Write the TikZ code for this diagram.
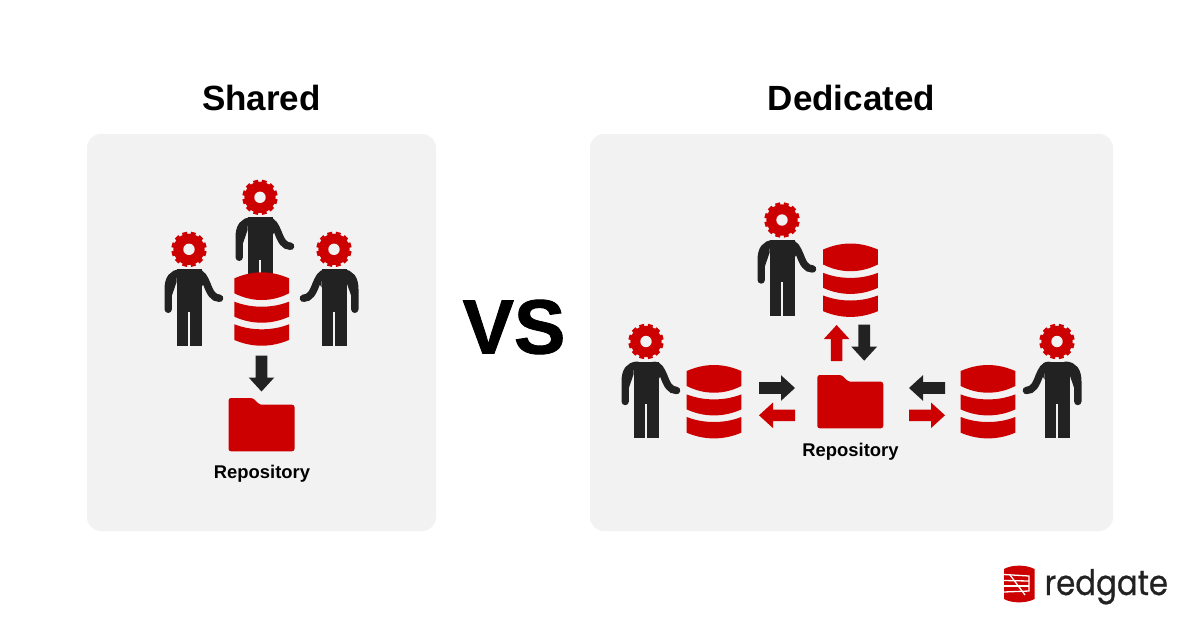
\documentclass[tikz,border=0pt]{standalone}
\usepackage{fontspec}
\setmainfont{Liberation Sans}
\newfontfamily\logofont[FakeBold=0.6,FakeStretch=0.88]{Poppins}
\newfontfamily\vsfont[FakeBold=1.2]{Liberation Sans Bold}
\definecolor{rg}{HTML}{CC0000}
\definecolor{ink}{HTML}{222222}
\definecolor{panel}{HTML}{F2F2F2}
\tikzset{
  panelbox/.style={fill=panel,draw=none,rounded corners=14pt},
  titletext/.style={inner sep=0pt,font=\bfseries\fontsize{35}{40}\selectfont,text=black},
  repotext/.style={inner sep=0pt,font=\bfseries\fontsize{18.4}{20}\selectfont,text=black},
}
\newcommand{\drawperson}[3]{% x, y, xscale
\begin{scope}[shift={(#1,#2)},xscale=#3]
  \foreach \a in {15,45,...,345}{\draw[rg,line width=5pt] (\a:13) -- (\a:17.6);}
  \fill[rg] (0,0) circle (15.6);
  \fill[panel] (0,0) circle (5.7);
  \draw[ink,line width=7.4pt,line cap=round] (-20.8,60) -- (-20.8,40) .. controls (-20.8,30) and (-17,23.7) .. (-8,23.7);
  \draw[ink,line width=7.4pt,line cap=round] (8,23.7) .. controls (13,23.7) and (15.5,29) .. (18,35) .. controls (21,43) and (24,49) .. (30.6,49);
  \fill[ink] (-17,46) -- (-12.5,33) -- (-12.5,22) -- (-18,25) -- cycle;
  \fill[ink] (12.5,22) -- (17,30) -- (12.5,38) -- cycle;
  \fill[ink] (-12.5,20) rectangle (-1,96.4);
  \fill[ink] (12.5,20) rectangle (1,96.4);
  \fill[ink] (-1.1,20) rectangle (1.1,62.4);
\end{scope}}
\newcommand{\drawdb}[2]{% centre x, top y
\begin{scope}[shift={(#1,#2)}]
  \fill[rg] (-27.3,6) .. controls (-18,2) and (-9,0) .. (0,0) .. controls (9,0) and (18,2) .. (27.3,6) -- (27.3,21) .. controls (18,25.7) and (9,27.7) .. (0,27.7) .. controls (-9,27.7) and (-18,25.7) .. (-27.3,21) -- cycle;
  \fill[rg] (-27.3,29.4) .. controls (-18,33) and (-9,34.4) .. (0,34.4) .. controls (9,34.4) and (18,33) .. (27.3,29.4) -- (27.3,44.4) .. controls (18,48.6) and (9,50.4) .. (0,50.4) .. controls (-9,50.4) and (-18,48.6) .. (-27.3,44.4) -- cycle;
  \fill[rg] (-27.3,52) .. controls (-18,55.6) and (-9,57) .. (0,57) .. controls (9,57) and (18,55.6) .. (27.3,52) -- (27.3,67.7) .. controls (18,71.6) and (9,73.4) .. (0,73.4) .. controls (-9,73.4) and (-18,71.6) .. (-27.3,67.7) -- cycle;
\end{scope}}
\newcommand{\drawfolder}[2]{% left x, top y
\begin{scope}[shift={(#1,#2)}]
  \fill[rg,rounded corners=2.5pt] (0,0) -- (24.4,0) -- (31,6.7) -- (66,6.7) -- (66,53.3) -- (0,53.3) -- cycle;
\end{scope}}
\newcommand{\drawarrow}[4]{% colour, tail x, tail y, rotation (clockwise on screen)
\begin{scope}[shift={(#2,#3)},rotate=#4]
  \fill[#1] (0,-5.8) -- (22,-5.8) -- (22,-12.8) -- (36,0) -- (22,12.8) -- (22,5.8) -- (0,5.8) -- cycle;
\end{scope}}
\begin{document}
\begin{tikzpicture}[x=1pt,y=-1pt]
\useasboundingbox (0,0) rectangle (1200,630);
\fill[white] (0,0) rectangle (1200,630);
\fill[panelbox] (87,134) rectangle (436,531);
\fill[panelbox] (590,134) rectangle (1113,531);
\node[titletext] (sharedtitle) at (261.5,98) {Shared};
\node[titletext] (dedicatedtitle) at (851.5,98) {Dedicated};
\node[inner sep=0pt,font=\vsfont\fontsize{77}{80}\selectfont,text=black] (vs) at (514,327) {VS};
% shared
\drawperson{260}{197.3}{1}
\drawperson{189}{249.3}{1}
\drawperson{334}{249.3}{-1}
\drawdb{261.7}{272.3}
\drawarrow{ink}{261.5}{355.5}{-90}
\drawfolder{228.5}{398}
\node[repotext] (repoa) at (262,473.5) {Repository};
% dedicated
\drawperson{782}{220}{1}
\drawdb{850.5}{243.5}
\drawperson{646}{341.5}{1}
\drawdb{714}{365}
\drawperson{1057}{341.5}{-1}
\drawdb{988}{365}
\drawarrow{rg}{836.6}{361}{90}
\drawarrow{ink}{864.2}{324.7}{-90}
\drawarrow{ink}{759}{388}{0}
\drawarrow{rg}{795}{415.3}{180}
\drawarrow{ink}{945}{388}{180}
\drawarrow{rg}{909}{415.3}{0}
\drawfolder{817.3}{375}
\node[repotext] (repob) at (850.5,451.5) {Repository};
% logo
\fill[rg] (1004,569) .. controls (1012,564.5) and (1026,564.5) .. (1034.5,569) -- (1034.5,599) .. controls (1026,603.5) and (1012,603.5) .. (1004,599) -- cycle;
\draw[white,line width=1.3pt] (1004,574.5) -- (1029,576) -- (1029,591) -- (1004,592);
\draw[white,line width=1.3pt] (1004,580.5) -- (1029,581);
\draw[white,line width=1.3pt] (1004,586) -- (1029,586);
\draw[white,line width=1.3pt] (1010,575) -- (1025,595);
\node[inner sep=0pt,anchor=base west,font=\logofont\fontsize{35}{38}\selectfont,text=ink] (logo) at (1044.5,595) {redgate};
\end{tikzpicture}
\end{document}
